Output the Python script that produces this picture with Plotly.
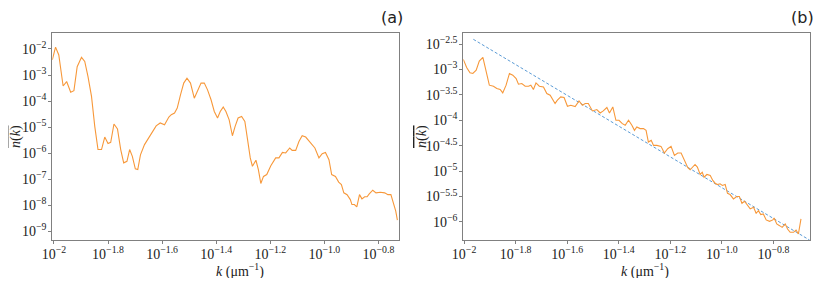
import plotly.graph_objects as go

# ---- panel (a): exponents (log10 values) ----
a_log_k = [-2.006, -1.994, -1.982, -1.966, -1.953, -1.938, -1.926, -1.914, -1.898, -1.886,
           -1.874, -1.861, -1.849, -1.837, -1.824, -1.812, -1.800, -1.790, -1.778, -1.765,
           -1.753, -1.742, -1.730, -1.720, -1.710, -1.699, -1.690, -1.680, -1.665, -1.650,
           -1.634, -1.622, -1.607, -1.591, -1.575, -1.566, -1.554, -1.544, -1.532, -1.520,
           -1.508, -1.495, -1.481, -1.469, -1.456, -1.444, -1.432, -1.419, -1.407, -1.395,
           -1.385, -1.374, -1.364, -1.352, -1.340, -1.330, -1.319, -1.306, -1.294, -1.284,
           -1.274, -1.266, -1.253, -1.244, -1.235, -1.225, -1.213, -1.198, -1.180, -1.168,
           -1.155, -1.143, -1.128, -1.119, -1.106, -1.094, -1.082, -1.069, -1.051, -1.035,
           -1.020, -1.008, -0.996, -0.983, -0.973, -0.959, -0.947, -0.937, -0.928, -0.916,
           -0.904, -0.898, -0.889, -0.880, -0.870, -0.861, -0.851, -0.842, -0.834, -0.821,
           -0.809, -0.793, -0.777, -0.765, -0.754, -0.744, -0.736, -0.730]
a_log_n = [-2.42, -1.93, -2.23, -3.42, -3.25, -3.66, -3.60, -2.68, -2.32, -2.48,
           -3.06, -3.82, -4.97, -5.86, -5.86, -5.38, -5.63, -5.58, -4.88, -5.07,
           -5.86, -6.37, -6.31, -5.86, -6.12, -6.60, -6.63, -6.06, -5.67, -5.42,
           -5.10, -4.95, -4.84, -4.91, -4.61, -4.52, -4.46, -4.27, -3.76, -3.31,
           -3.12, -3.31, -3.89, -3.63, -3.31, -3.31, -3.57, -3.95, -4.40, -4.65,
           -4.40, -4.23, -4.40, -4.72, -5.33, -4.97, -4.65, -4.59, -4.78, -5.48,
           -6.18, -6.50, -6.27, -6.63, -7.16, -6.89, -6.82, -6.48, -6.18, -6.18,
           -5.97, -5.99, -5.80, -5.89, -5.89, -5.55, -5.33, -5.38, -5.61, -5.80,
           -6.18, -6.02, -5.97, -6.25, -6.82, -6.89, -7.11, -7.20, -7.52, -7.59,
           -7.78, -7.97, -7.97, -8.06, -7.59, -7.75, -7.67, -7.67, -7.56, -7.42,
           -7.52, -7.50, -7.52, -7.59, -7.59, -7.97, -8.22, -8.57]

# ---- panel (b) ----
b_log_k = [-2.003, -1.990, -1.977, -1.966, -1.953, -1.941, -1.927, -1.915, -1.902, -1.886,
           -1.873, -1.860, -1.850, -1.837, -1.824, -1.811, -1.798, -1.789, -1.776, -1.763,
           -1.750, -1.741, -1.731, -1.721, -1.708, -1.692, -1.679, -1.666, -1.647, -1.638,
           -1.625, -1.612, -1.599, -1.586, -1.569, -1.554, -1.541, -1.530, -1.518, -1.502,
           -1.485, -1.472, -1.460, -1.446, -1.436, -1.423, -1.411, -1.399, -1.386, -1.375,
           -1.362, -1.349, -1.339, -1.330, -1.317, -1.304, -1.294, -1.285, -1.274, -1.265,
           -1.252, -1.236, -1.223, -1.210, -1.197, -1.184, -1.171, -1.158, -1.145, -1.132,
           -1.123, -1.111, -1.104, -1.095, -1.084, -1.076, -1.069, -1.058, -1.045, -1.035,
           -1.026, -1.017, -1.007, -0.998, -0.987, -0.978, -0.968, -0.955, -0.942, -0.932,
           -0.922, -0.912, -0.901, -0.890, -0.877, -0.867, -0.858, -0.849, -0.839, -0.828,
           -0.815, -0.802, -0.797, -0.787, -0.776, -0.766, -0.754, -0.745, -0.735, -0.722,
           -0.712, -0.703, -0.693]
b_log_n = [-2.802, -2.960, -3.066, -3.079, -3.013, -2.836, -2.763, -3.027, -3.309, -3.329,
           -3.375, -3.395, -3.461, -3.309, -3.079, -3.112, -3.178, -3.290, -3.276, -3.329,
           -3.329, -3.309, -3.395, -3.264, -3.329, -3.343, -3.473, -3.507, -3.671, -3.605,
           -3.540, -3.552, -3.724, -3.704, -3.730, -3.619, -3.704, -3.671, -3.671, -3.816,
           -3.789, -3.856, -3.816, -3.749, -3.856, -3.738, -4.000, -4.000, -4.066, -4.099,
           -4.000, -4.099, -4.198, -4.132, -4.164, -4.164, -4.198, -4.428, -4.395, -4.494,
           -4.494, -4.513, -4.645, -4.559, -4.513, -4.691, -4.645, -4.645, -4.790, -4.934,
           -4.973, -4.908, -4.869, -4.922, -5.066, -5.021, -5.119, -5.066, -5.086, -5.184,
           -5.238, -5.264, -5.250, -5.283, -5.264, -5.436, -5.461, -5.546, -5.500, -5.500,
           -5.633, -5.593, -5.678, -5.743, -5.711, -5.830, -5.777, -5.856, -5.842, -5.960,
           -5.988, -5.960, -5.921, -6.039, -6.073, -6.106, -6.039, -6.138, -6.204, -6.204,
           -6.158, -6.237, -5.941]

# power-law guide line (end points, log10)
fit_log_k = [-1.964, -0.660]
fit_log_n = [-2.407, -6.355]

# tick labels
x_tick_exp = [-2.0, -1.8, -1.6, -1.4, -1.2, -1.0, -0.8]
x_tick_lbl = ["−2", "−1.8", "−1.6", "−1.4", "−1.2", "−1.0", "−0.8"]
ya_tick_exp = [-2, -3, -4, -5, -6, -7, -8, -9]
ya_tick_lbl = ["−2", "−3", "−4", "−5", "−6", "−7", "−8", "−9"]
yb_tick_exp = [-2.5, -3, -3.5, -4, -4.5, -5, -5.5, -6]
yb_tick_lbl = ["−2.5", "−3", "−3.5", "−4", "−4.5", "−5", "−5.5", "−6"]

ORANGE = "#f7983a"
BLUE = "#5b9bd5"
AXC = "#808080"
TXT = "#222222"
SERIF = "Liberation Serif, DejaVu Serif, serif"

# the page body has an 8px default margin; work in reference pixel coordinates
OFF = 8.0
W = 814.0
H = 270.0


def fx(px):
    return (px - OFF) / W


def fy(py):
    return 1 - (py - OFF) / H


def p10(v):
    return [10 ** e for e in v]


def pw(lbls):
    return ["10<sup>" + s + "</sup>" for s in lbls]


fig = go.Figure()
fig.add_trace(go.Scatter(x=p10(a_log_k), y=p10(a_log_n), mode="lines",
                         line=dict(color=ORANGE, width=1.1), xaxis="x", yaxis="y",
                         showlegend=False))
fig.add_trace(go.Scatter(x=p10(fit_log_k), y=p10(fit_log_n), mode="lines",
                         line=dict(color=BLUE, width=1, dash="3px,2px"), xaxis="x2", yaxis="y2",
                         showlegend=False))
fig.add_trace(go.Scatter(x=p10(b_log_k), y=p10(b_log_n), mode="lines",
                         line=dict(color=ORANGE, width=1.1), xaxis="x2", yaxis="y2",
                         showlegend=False))

ydom = [fy(240.0), fy(32.7)]
common = dict(type="log", showline=True, linecolor=AXC, linewidth=1, mirror=True,
              ticks="outside", ticklen=3, tickcolor=AXC, showgrid=False, zeroline=False,
              automargin=False, tickfont=dict(family=SERIF, size=14, color=TXT))

ytitle = "<span style='text-decoration:overline'><i>n</i>(<i>k</i>)</span>"
xtitle = "<i>k</i> (μm<sup>−1</sup>)"


def ann(text, x, y, size=14, angle=0, family=SERIF, xanchor="center"):
    return dict(text=text, x=fx(x), y=fy(y), xref="paper", yref="paper",
                xanchor=xanchor, yanchor="middle", showarrow=False, textangle=angle,
                borderpad=0, font=dict(family=family, size=size, color=TXT))


fig.update_layout(
    width=int(W), height=int(H), template="none",
    paper_bgcolor="white", plot_bgcolor="white",
    margin=dict(l=0, r=0, t=0, b=0),
    xaxis=dict(domain=[fx(52.3), fx(399.0)], range=[-2.006, -0.724],
               tickvals=p10(x_tick_exp), ticktext=pw(x_tick_lbl), anchor="y",
               ticklabelstandoff=-2, **common),
    yaxis=dict(domain=ydom, range=[-9.33, -1.376], tickvals=p10(ya_tick_exp),
               ticktext=pw(ya_tick_lbl), anchor="x", ticklabelstandoff=-1, **common),
    xaxis2=dict(domain=[fx(463.3), fx(810.0)], range=[-2.003, -0.658],
                tickvals=p10(x_tick_exp), ticktext=pw(x_tick_lbl), anchor="y2",
                ticklabelstandoff=-2, **common),
    yaxis2=dict(domain=ydom, range=[-6.355, -2.277], tickvals=p10(yb_tick_exp),
                ticktext=pw(yb_tick_lbl), anchor="x2", ticklabelstandoff=-1, **common),
    annotations=[
        ann("(a)", 404, 18, size=16, family="DejaVu Sans, sans-serif", xanchor="right"),
        ann("(b)", 815, 18, size=16, family="DejaVu Sans, sans-serif", xanchor="right"),
        ann(xtitle, 240, 270),
        ann(xtitle, 645, 270),
        ann(ytitle, 16, 137, angle=-90),
        ann(ytitle, 422, 137, angle=-90),
    ],
)

fig.write_html("out.html")
